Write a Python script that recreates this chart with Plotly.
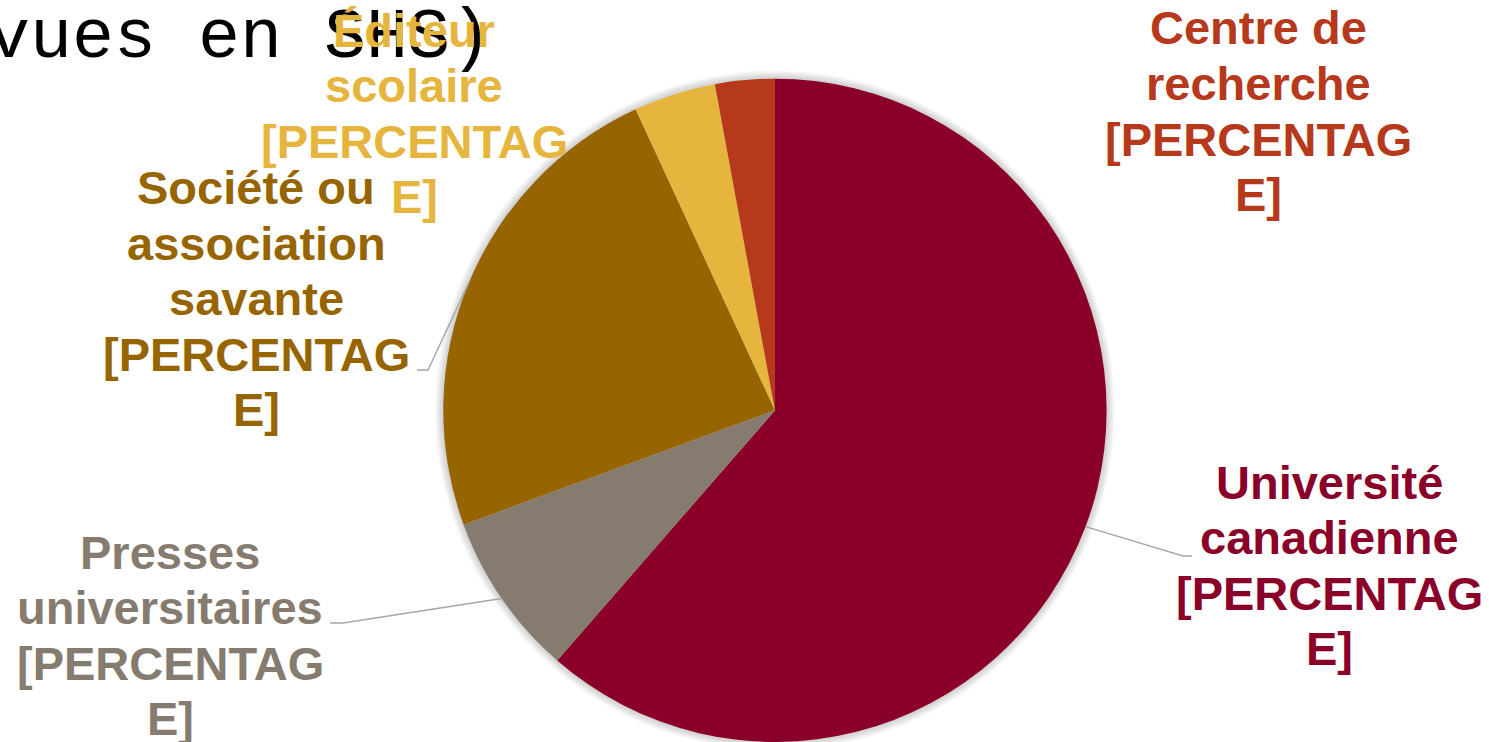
import math
import plotly.graph_objects as go

# ---- data ----
categories = ["Université canadienne", "Presses universitaires",
              "Société ou association savante", "Éditeur scolaire",
              "Centre de recherche"]
values = [61.4, 8.0, 23.7, 4.0, 2.9]
colors = ["#8A0029", "#857B6F", "#976500", "#E5B53D", "#B5391A"]
label_lines = [
    ["Université", "canadienne", "[PERCENTAG", "E]"],
    ["Presses", "universitaires", "[PERCENTAG", "E]"],
    ["Société ou", "association", "savante", "[PERCENTAG", "E]"],
    ["Éditeur", "scolaire", "[PERCENTAG", "E]"],
    ["Centre de", "recherche", "[PERCENTAG", "E]"],
]
title_text = "vues en SHS)"

# ---- layout constants (pixels) ----
W, H = 1489, 742
dom_x = [0.2968, 0.7441]
dom_y = [0.0, 0.894]
# label block: centre x, y of first line centre
label_pos = [(1329, 482), (170, 552), (256, 187.5), (414, 30), (1258, 28)]
line_gap = 55.5
# leader lines: (elbow, end) or None
leaders = [((1183, 556), (1192, 556)), ((343, 623), (330, 623)),
           ((428, 370), (417, 370)), None, None]

fig = go.Figure(go.Pie(
    labels=categories, values=values, sort=False, direction="clockwise",
    rotation=0, marker=dict(colors=colors, line=dict(width=0)),
    textinfo="none", hoverinfo="label+percent", showlegend=False,
    domain=dict(x=dom_x, y=dom_y),
))

# pie geometry in pixels
cx = (dom_x[0] + dom_x[1]) / 2 * W
cy = H - (dom_y[0] + dom_y[1]) / 2 * H
r = min((dom_x[1] - dom_x[0]) * W, (dom_y[1] - dom_y[0]) * H) / 2

def px2paper(x, y):
    return x / W, 1 - y / H

annotations = []
shapes = []

# soft shadow around the pie
for k in range(1, 6):
    rr = r + k * 1.6
    x0p, y0p = px2paper(cx - rr, cy + rr)
    x1p, y1p = px2paper(cx + rr, cy - rr)
    shapes.append(dict(type="circle", xref="paper", yref="paper",
                       x0=x0p, y0=y0p, x1=x1p, y1=y1p, layer="below",
                       line=dict(width=0), fillcolor="rgba(0,0,0,0.035)"))

total = sum(values)
cum = 0.0
for i, v in enumerate(values):
    mid = (cum + v / 2) / total * 2 * math.pi
    cum += v
    col = colors[i]
    x0, y0 = label_pos[i]
    for k, ln in enumerate(label_lines[i]):
        xp, yp = px2paper(x0, y0 + k * line_gap)
        annotations.append(dict(
            text=ln, x=xp, y=yp, xref="paper", yref="paper",
            xanchor="center", yanchor="middle", showarrow=False,
            font=dict(family="Liberation Sans, Arial", size=47, color=col,
                      weight="bold")))
    if leaders[i] is not None:
        ex = cx + r * math.sin(mid)
        ey = cy - r * math.cos(mid)
        (bx, by), (tx, ty) = leaders[i]
        pts = [px2paper(ex, ey), px2paper(bx, by), px2paper(tx, ty)]
        path = "M {} {} L {} {} L {} {}".format(*[c for p in pts for c in p])
        shapes.append(dict(type="path", path=path, xref="paper", yref="paper",
                           line=dict(color="#A6A6A6", width=1.4)))

# title (cut at the left edge, as in the reference)
tx, ty = px2paper(-14, 80)
annotations.insert(0, dict(
    text=title_text, x=tx, y=ty, xref="paper", yref="paper",
    xanchor="left", yanchor="bottom", showarrow=False,
    font=dict(family="Liberation Mono", size=70, color="#000000")))

fig.update_layout(
    width=W, height=H, margin=dict(l=0, r=0, t=0, b=0),
    paper_bgcolor="white", plot_bgcolor="white",
    annotations=annotations, shapes=shapes,
)

fig.write_html("out.html", config={"displayModeBar": False},
               post_script="document.body.style.margin='0px';")
